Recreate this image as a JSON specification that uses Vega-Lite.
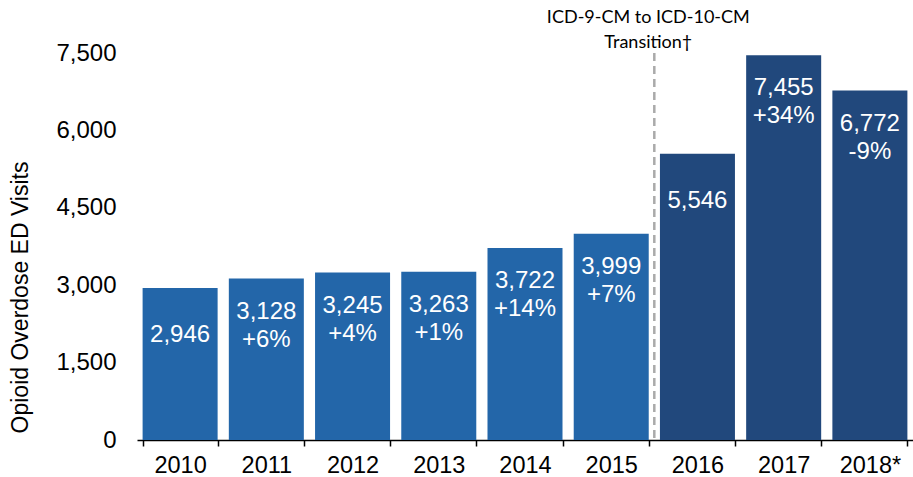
{
  "$schema": "https://vega.github.io/schema/vega-lite/v6.json",
  "autosize": "none",
  "padding": {"left": 137, "top": 53, "right": 0, "bottom": 37},
  "width": 776,
  "height": 387,
  "background": "white",
  "config": {
    "view": {"stroke": null},
    "font": "Liberation Sans"
  },
  "data": {
    "values": [
      {"year": "2010", "visits": 2946, "label": "2,946", "change": null, "period": "ICD-9-CM"},
      {"year": "2011", "visits": 3128, "label": "3,128", "change": "+6%", "period": "ICD-9-CM"},
      {"year": "2012", "visits": 3245, "label": "3,245", "change": "+4%", "period": "ICD-9-CM"},
      {"year": "2013", "visits": 3263, "label": "3,263", "change": "+1%", "period": "ICD-9-CM"},
      {"year": "2014", "visits": 3722, "label": "3,722", "change": "+14%", "period": "ICD-9-CM"},
      {"year": "2015", "visits": 3999, "label": "3,999", "change": "+7%", "period": "ICD-9-CM"},
      {"year": "2016", "visits": 5546, "label": "5,546", "change": null, "period": "ICD-10-CM"},
      {"year": "2017", "visits": 7455, "label": "7,455", "change": "+34%", "period": "ICD-10-CM"},
      {"year": "2018*", "visits": 6772, "label": "6,772", "change": "-9%", "period": "ICD-10-CM"}
    ]
  },
  "encoding": {
    "x": {
      "field": "year",
      "type": "nominal",
      "sort": null,
      "scale": {"paddingInner": 0.13, "paddingOuter": 0.065},
      "axis": {
        "title": null,
        "labelAngle": 0,
        "labelFont": "Liberation Sans",
        "labelFontSize": 23.5,
        "labelColor": "#000000",
        "labelPadding": 7,
        "domainColor": "#000000",
        "domainWidth": 1.5,
        "tickColor": "#000000",
        "tickWidth": 1.5,
        "tickSize": 6,
        "tickBand": "extent",
        "grid": false
      }
    }
  },
  "layer": [
    {
      "mark": {"type": "bar"},
      "encoding": {
        "y": {
          "field": "visits",
          "type": "quantitative",
          "scale": {"domain": [0, 7500], "nice": false},
          "axis": {
            "values": [0, 1500, 3000, 4500, 6000, 7500],
            "format": ",d",
            "title": "Opioid Overdose ED Visits",
            "titleFont": "Liberation Sans",
            "titleFontSize": 23,
            "titleFontWeight": "normal",
            "titleColor": "#000000",
            "titleAngle": 270,
            "titleAlign": "center",
            "titleBaseline": "middle",
            "titleX": -117,
            "titleY": 244,
            "labelFont": "Liberation Sans",
            "labelFontSize": 24,
            "labelColor": "#000000",
            "labelPadding": 21,
            "domain": false,
            "ticks": false,
            "grid": false
          }
        },
        "color": {
          "field": "period",
          "type": "nominal",
          "scale": {"domain": ["ICD-9-CM", "ICD-10-CM"], "range": ["#2366A9", "#21487C"]},
          "legend": null
        }
      }
    },
    {
      "transform": [{"filter": "datum.change == null"}],
      "mark": {
        "type": "text",
        "color": "white",
        "font": "Liberation Sans",
        "fontSize": 24,
        "baseline": "middle",
        "align": "center",
        "dy": 47
      },
      "encoding": {
        "y": {"field": "visits", "type": "quantitative"},
        "text": {"field": "label", "type": "nominal"}
      }
    },
    {
      "transform": [{"filter": "datum.change != null"}],
      "mark": {
        "type": "text",
        "color": "white",
        "font": "Liberation Sans",
        "fontSize": 24,
        "baseline": "middle",
        "align": "center",
        "dy": 33
      },
      "encoding": {
        "y": {"field": "visits", "type": "quantitative"},
        "text": {"field": "label", "type": "nominal"}
      }
    },
    {
      "transform": [{"filter": "datum.change != null"}],
      "mark": {
        "type": "text",
        "color": "white",
        "font": "Liberation Sans",
        "fontSize": 24,
        "baseline": "middle",
        "align": "center",
        "dy": 61
      },
      "encoding": {
        "y": {"field": "visits", "type": "quantitative"},
        "text": {"field": "change", "type": "nominal"}
      }
    },
    {
      "data": {"values": [{"year": "2016"}]},
      "mark": {"type": "rule", "color": "#AAAAAA", "strokeWidth": 2.5, "strokeDash": [8, 5]},
      "encoding": {
        "x": {"field": "year", "type": "nominal", "bandPosition": -0.075}
      }
    },
    {
      "data": {"values": [{"year": "2016", "note": "ICD-9-CM to ICD-10-CM\nTransition†", "top": 7500}]},
      "mark": {
        "type": "text",
        "font": "Lato",
        "fontSize": 18,
        "color": "#000000",
        "align": "center",
        "baseline": "middle",
        "dy": -35,
        "dx": -6,
        "lineBreak": "\n",
        "lineHeight": 25
      },
      "encoding": {
        "x": {"field": "year", "type": "nominal", "bandPosition": -0.075},
        "y": {"field": "top", "type": "quantitative"},
        "text": {"field": "note", "type": "nominal"}
      }
    }
  ]
}
